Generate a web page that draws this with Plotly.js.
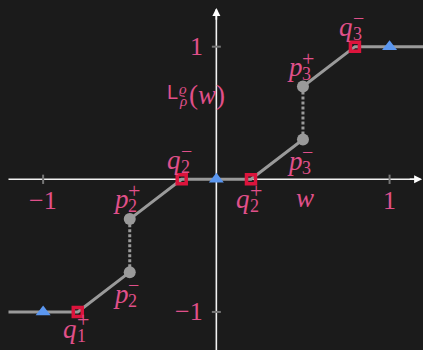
<!DOCTYPE html>
<html>
<head>
<meta charset="utf-8">
<script src="https://cdn.plot.ly/plotly-3.0.1.min.js"></script>
<style>html,body{margin:0;padding:0;background:#1b1b1b;}</style>
</head>
<body>
<div id="chart" style="width:423px;height:350px;"></div>
<script>
// Breakpoints of the piecewise-linear map L(w)
const qX = [-0.8, -0.2, 0.2, 0.8];
const qY = [-1, 0, 0, 1];
const qSub = ['1', '2', '2', '3'];
const qSup = ['+', '\u2212', '+', '\u2212'];

// Jump end-points
const pX = [-0.5, -0.5, 0.5, 0.5];
const pY = [-0.7, -0.3, 0.3, 0.7];
const pSub = ['2', '2', '3', '3'];
const pSup = ['\u2212', '+', '\u2212', '+'];

// Saturation points
const triX = [-1, 0, 1];
const triY = [-1, 0, 1];

// Flat tails at both ends
const tailX = [-1.2, 1.2];
const tailY = [-1, 1];

// Axis ticks
const xTicks = [-1, 1];
const yTicks = [-1, 1];
const xTickText = ['\u22121', '1'];
const yTickText = ['\u22121', '1'];

const PINK = '#e0508a';
const GREY = '#9a9a9a';
const SERIF = 'Liberation Serif, DejaVu Serif, serif';

// piecewise curve: tail -> q1 -> p2- | p2+ -> q2- -> q2+ -> p3- | p3+ -> q3 -> tail
const curveX = [tailX[0], qX[0], pX[0], null, pX[1], qX[1], qX[2], pX[2], null, pX[3], qX[3], tailX[1]];
const curveY = [tailY[0], qY[0], pY[0], null, pY[1], qY[1], qY[2], pY[2], null, pY[3], qY[3], tailY[1]];
const jumpX = [pX[0], pX[1], null, pX[2], pX[3]];
const jumpY = [pY[0], pY[1], null, pY[2], pY[3]];

const traces = [
  {x: curveX, y: curveY, mode: 'lines', line: {color: GREY, width: 3}, hoverinfo: 'skip'},
  {x: jumpX, y: jumpY, mode: 'lines', line: {color: GREY, width: 3, dash: '3px,2px'}, hoverinfo: 'skip'},
  {x: pX, y: pY, mode: 'markers', marker: {color: GREY, size: 12, line: {width: 0}}},
  {x: qX, y: qY, mode: 'markers', marker: {symbol: 'square-open', color: '#dc143c', size: 9, line: {width: 3.5, color: '#dc143c'}}},
  {x: triX, y: triY, mode: 'markers', marker: {symbol: 'triangle-up', color: '#5b97f0', size: 13, line: {width: 0}}}
];

// label offsets in pixels (dx right, dy down) from each point
const qOff = [[-8, 17], [-8, -19], [-8, 20], [-9, -20]];
const pOff = [[-9, 22], [-9, -20], [-8, 21], [-8, -19]];

const ann = [];
function pointLabel(x, y, letter, sub, sup, off) {
  const base = {x: x, y: y, xref: 'x', yref: 'y', showarrow: false};
  ann.push(Object.assign({}, base, {text: '<i>' + letter + '</i>', font: {family: SERIF, color: PINK, size: 27},
    xanchor: 'center', yanchor: 'middle', xshift: off[0], yshift: -off[1]}));
  ann.push(Object.assign({}, base, {text: sub, font: {family: SERIF, color: PINK, size: 18},
    xanchor: 'left', yanchor: 'middle', xshift: off[0] + 5, yshift: -(off[1] + 7)}));
  ann.push(Object.assign({}, base, {text: sup, font: {family: SERIF, color: PINK, size: sup === '+' ? 22 : 20},
    xanchor: 'left', yanchor: 'middle', xshift: off[0] + 5, yshift: -(off[1] - 9)}));
}
qX.forEach((x, i) => pointLabel(x, qY[i], 'q', qSub[i], qSup[i], qOff[i]));
pX.forEach((x, i) => pointLabel(x, pY[i], 'p', pSub[i], pSup[i], pOff[i]));

// tick labels
xTicks.forEach((t, i) => ann.push({x: t, y: 0, xref: 'x', yref: 'y', showarrow: false, text: xTickText[i],
  font: {family: SERIF, color: PINK, size: 26}, xanchor: 'center', yanchor: 'middle', yshift: -21}));
yTicks.forEach((t, i) => ann.push({x: 0, y: t, xref: 'x', yref: 'y', showarrow: false, text: yTickText[i],
  font: {family: SERIF, color: PINK, size: 26}, xanchor: 'right', yanchor: 'middle', xshift: -11}));

// axis names
ann.push({x: 0.51, y: 0, xref: 'x', yref: 'y', showarrow: false, text: '<i>w</i>',
  font: {family: SERIF, color: PINK, size: 27}, xanchor: 'center', yanchor: 'middle', yshift: -19});
const Lx = -0.256, Ly = 0.66;
ann.push({x: Lx, y: Ly, xref: 'x', yref: 'y', showarrow: false, text: 'L',
  font: {family: 'Liberation Sans, DejaVu Sans, sans-serif', color: PINK, size: 20}, xanchor: 'center', yanchor: 'middle'});
ann.push({x: Lx, y: Ly, xref: 'x', yref: 'y', showarrow: false, text: '<i>\u03f1</i>',
  font: {family: SERIF, color: PINK, size: 15}, xanchor: 'left', yanchor: 'middle', xshift: 5, yshift: 3});
ann.push({x: Lx, y: Ly, xref: 'x', yref: 'y', showarrow: false, text: '<i>\u03c1</i>',
  font: {family: SERIF, color: PINK, size: 15}, xanchor: 'left', yanchor: 'middle', xshift: 5, yshift: -9});
ann.push({x: Lx, y: Ly, xref: 'x', yref: 'y', showarrow: false, text: '(<i>w</i>)',
  font: {family: SERIF, color: PINK, size: 27}, xanchor: 'left', yanchor: 'middle', xshift: 15, yshift: -3});

// arrowheads at the ends of the axes
const xEnd = 1.188, yEnd = 1.292;
ann.push({x: xEnd, y: 0, ax: xEnd - 0.08, ay: 0, xref: 'x', yref: 'y', axref: 'x', ayref: 'y', text: '',
  showarrow: true, arrowhead: 2, arrowsize: 1, arrowwidth: 1.6, arrowcolor: '#ffffff'});
ann.push({x: 0, y: yEnd, ax: 0, ay: yEnd - 0.1, xref: 'x', yref: 'y', axref: 'x', ayref: 'y', text: '',
  showarrow: true, arrowhead: 2, arrowsize: 1, arrowwidth: 1.6, arrowcolor: '#ffffff'});

const shapes = [
  {type: 'line', xref: 'x', yref: 'y', x0: -1.2, y0: 0, x1: xEnd - 0.01, y1: 0, line: {color: '#f2f2f2', width: 1.6}, layer: 'below'},
  {type: 'line', xref: 'x', yref: 'y', x0: 0, y0: -1.35, x1: 0, y1: yEnd - 0.01, line: {color: '#f2f2f2', width: 1.6}, layer: 'below'}
];
xTicks.forEach(t => shapes.push({type: 'line', xref: 'x', yref: 'y', x0: t, x1: t, y0: -0.035, y1: 0.035,
  line: {color: '#777777', width: 2}, layer: 'below'}));
yTicks.forEach(t => shapes.push({type: 'line', xref: 'x', yref: 'y', x0: -0.026, x1: 0.026, y0: t, y1: t,
  line: {color: '#777777', width: 2}, layer: 'below'}));

const layout = {
  width: 423, height: 350,
  margin: {l: 0, r: 0, t: 0, b: 0, pad: 0},
  paper_bgcolor: '#1b1b1b', plot_bgcolor: '#1b1b1b',
  showlegend: false,
  xaxis: {range: [-1.249, 1.193], visible: false, fixedrange: true},
  yaxis: {range: [-1.287, 1.352], visible: false, fixedrange: true},
  shapes: shapes,
  annotations: ann
};

Plotly.newPlot('chart', traces, layout, {displayModeBar: false, staticPlot: true});
</script>
</body>
</html>
